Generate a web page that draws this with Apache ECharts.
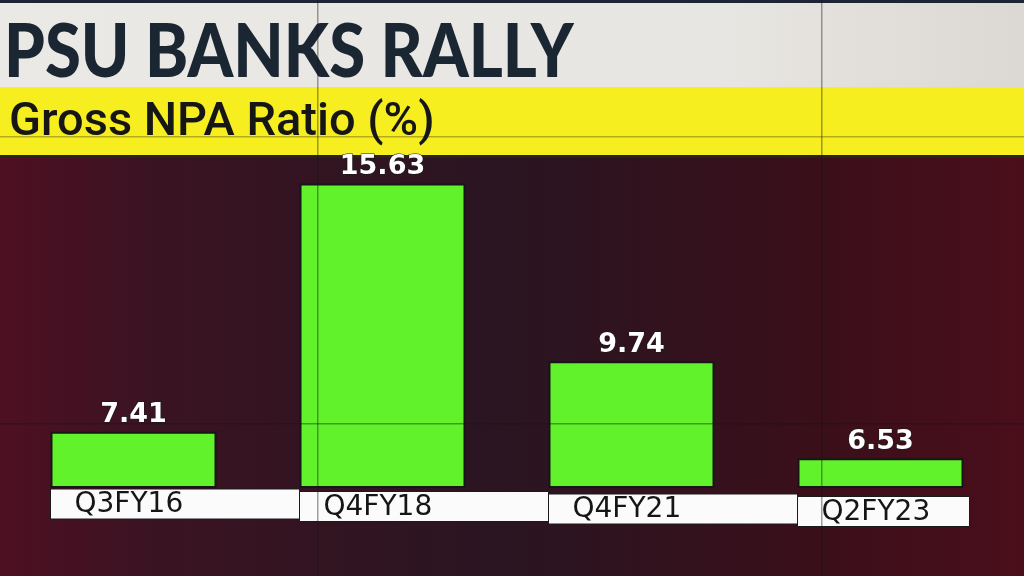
<!DOCTYPE html>
<html>
<head>
<meta charset="utf-8">
<script src="https://cdn.jsdelivr.net/npm/echarts@6/dist/echarts.min.js"></script>
<style>
html,body{margin:0;padding:0;background:#2c1420;}
#c{width:1024px;height:576px;}
</style>
</head>
<body>
<div id="c"></div>
<script>
const titleText = 'PSU BANKS RALLY';
const subtitleText = 'Gross NPA Ratio (%)';
const categories = ['Q3FY16', 'Q4FY18', 'Q4FY21', 'Q2FY23'];
const npaRatio = [7.41, 15.63, 9.74, 6.53];
const yMin = 5.58;
const yMax = 16.11;
const barW = 166;

const chart = echarts.init(document.getElementById('c'), null, {renderer: 'canvas'});

const option = {
  animation: false,
  backgroundColor: {
    type: 'linear', x: 0, y: 0, x2: 1, y2: 0,
    colorStops: [
      {offset: 0, color: '#4e1022'},
      {offset: 0.15, color: '#3a1322'},
      {offset: 0.5, color: '#2a1521'},
      {offset: 0.8, color: '#3a0f1a'},
      {offset: 1, color: '#4a0e1a'}
    ]
  },
  grid: {left: 9, right: 19, top: 169, bottom: 89},
  xAxis: {
    type: 'category',
    data: categories,
    axisLine: {show: false},
    axisTick: {show: false},
    axisLabel: {show: false}
  },
  yAxis: {
    type: 'value', min: yMin, max: yMax,
    show: false,
    splitLine: {show: false}
  },
  graphic: [
    {type: 'rect', shape: {x: 0, y: 0, width: 1024, height: 87},
     style: {fill: {type: 'linear', x: 0, y: 0, x2: 1, y2: 0,
       colorStops: [{offset: 0, color: '#ebe9e5'}, {offset: 0.7, color: '#e8e6e2'}, {offset: 1, color: '#dcd8d4'}]}}, z: 0},
    {type: 'rect', shape: {x: 0, y: 0, width: 1024, height: 3}, style: {fill: '#1c2535'}, z: 1},
    {type: 'rect', shape: {x: 0, y: 87, width: 1024, height: 68}, style: {fill: '#f6ee1f'}, z: 0},
    {type: 'rect', shape: {x: 0, y: 155, width: 1024, height: 3}, style: {fill: '#2a2418'}, z: 1},
    {type: 'rect', shape: {x: 0, y: 136, width: 1024, height: 1.5}, style: {fill: '#8a8212', opacity: 0.6}, z: 1},
    {type: 'text', x: 4, y: 15, scaleX: 0.87, z: 5,
     style: {text: titleText, font: '900 75px Lato', fill: '#1b2633', textVerticalAlign: 'top'}},
    {type: 'text', x: 9, y: 100, z: 5,
     style: {text: subtitleText, font: '500 47px Roboto', fill: '#161616', textVerticalAlign: 'top'}},
    {type: 'rect', shape: {x: 317, y: 0, width: 1.5, height: 576}, style: {fill: '#141414', opacity: 0.4}, z: 100},
    {type: 'rect', shape: {x: 821, y: 0, width: 1.5, height: 576}, style: {fill: '#141414', opacity: 0.4}, z: 100},
    {type: 'rect', shape: {x: 0, y: 423, width: 1024, height: 1.5}, style: {fill: '#141414', opacity: 0.4}, z: 100}
  ],
  series: [
    {
      type: 'bar',
      data: npaRatio,
      barWidth: barW,
      itemStyle: {color: '#62f22c', borderColor: '#161616', borderWidth: 2},
      label: {
        show: true, position: 'top', distance: 3,
        color: '#ffffff', fontFamily: 'DejaVu Sans', fontWeight: 'bold', fontSize: 27,
        textBorderColor: '#1a1a1a', textBorderWidth: 1,
        formatter: p => p.value.toFixed(2)
      },
      z: 3
    },
    {
      type: 'custom',
      data: categories.map((c, i) => [i, yMin]),
      encode: {x: 0, y: 1},
      clip: false,
      z: 4,
      renderItem: function (params, api) {
        const i = api.value(0);
        const base = api.coord([i, yMin]);
        const bandW = api.size([1, 0])[0];
        const x0 = base[0] - barW / 2;
        const w = i < categories.length - 1 ? bandW : barW + 6;
        const y0 = base[1] + 2 + i * 2.5;
        return {
          type: 'group',
          children: [
            {type: 'rect', shape: {x: x0, y: y0, width: w, height: 30},
             style: {fill: '#fbfbfb', stroke: '#1a1a1a', lineWidth: 1}},
            {type: 'text', x: x0 + 24, y: y0 + 16,
             style: {text: categories[i], font: '400 28px "DejaVu Sans"', fill: '#151515',
                     textVerticalAlign: 'middle', textAlign: 'left'}}
          ]
        };
      }
    }
  ]
};
chart.setOption(option);
</script>
</body>
</html>
